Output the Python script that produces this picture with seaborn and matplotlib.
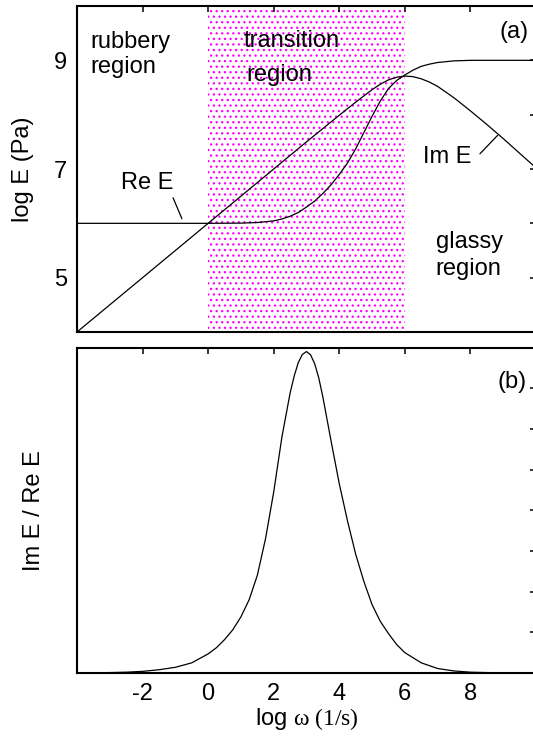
import matplotlib
matplotlib.use("Agg")
import matplotlib.pyplot as plt
import pandas as pd
import seaborn as sns

# ---------------- data ----------------
# panel (a): log Re E vs log omega
log_omega_re = [-4, -2, 0, 1, 1.5, 2, 2.25, 2.5, 2.75, 3, 3.25, 3.5, 3.75, 4,
                4.25, 4.5, 4.75, 5, 5.25, 5.5, 5.75, 6, 6.25, 6.5, 6.75, 7,
                7.5, 8, 9, 10]
log_re_E = [6.0, 6.0, 6.0, 6.004, 6.015, 6.045, 6.08, 6.13, 6.20, 6.30, 6.41,
            6.55, 6.71, 6.90, 7.11, 7.37, 7.67, 7.97, 8.25, 8.48, 8.63, 8.73,
            8.82, 8.89, 8.93, 8.96, 8.99, 9.0, 9.0, 9.0]

# panel (a): log Im E vs log omega
log_omega_im = [-4, -2, 0, 2, 3, 4, 4.5, 5, 5.25, 5.5, 5.75, 6, 6.25, 6.5,
                6.75, 7, 7.5, 8, 8.5, 9, 9.5, 10]
log_im_E = [4.0, 5.0, 6.0, 7.0, 7.5, 7.99, 8.23, 8.46, 8.56, 8.64, 8.69, 8.71,
            8.70, 8.66, 8.60, 8.52, 8.31, 8.07, 7.82, 7.56, 7.29, 7.02]

# panel (b): Im E / Re E (arbitrary linear units)
log_omega_ratio = [-4, -3.5, -3, -2.5, -2, -1.5, -1, -0.5, 0, 0.25, 0.5, 0.75,
                   1, 1.25, 1.5, 1.75, 2, 2.25, 2.5, 2.625, 2.75, 2.875, 3,
                   3.125, 3.25, 3.375, 3.5, 3.75, 4, 4.25, 4.5, 4.75, 5, 5.25,
                   5.5, 5.75, 6, 6.5, 7, 7.5, 8, 8.5, 9, 9.5, 10]
ratio_im_re = [0.0, 0.005, 0.01, 0.02, 0.04, 0.08, 0.14, 0.25, 0.47, 0.62,
               0.82, 1.06, 1.38, 1.8, 2.4, 3.3, 4.45, 5.8, 6.88, 7.3, 7.63,
               7.83, 7.9, 7.82, 7.6, 7.25, 6.78, 5.7, 4.65, 3.74, 2.92, 2.25,
               1.68, 1.27, 0.97, 0.7, 0.5, 0.25, 0.11, 0.05, 0.02, 0.01,
               0.005, 0.002, 0.0]

transition_band = [0, 6]
x_ticks = [-2, 0, 2, 4, 6, 8]
x_tick_labels = ["-2", "0", "2", "4", "6", "8"]
top_y_ticks = [5, 6, 7, 8, 9]
top_y_tick_labels = ["5", "", "7", "", "9"]
bottom_y_ticks = [1, 2, 3, 4, 5, 6, 7]

df_re = pd.DataFrame({"log_omega": log_omega_re, "value": log_re_E})
df_im = pd.DataFrame({"log_omega": log_omega_im, "value": log_im_E})
df_ratio = pd.DataFrame({"log_omega": log_omega_ratio, "value": ratio_im_re})

# ---------------- style ----------------
sns.set_style("white")
plt.rcParams["font.family"] = ["Liberation Sans", "DejaVu Sans"]
plt.rcParams["axes.unicode_minus"] = False
plt.rcParams["mathtext.fontset"] = "custom"
plt.rcParams["mathtext.rm"] = "Liberation Serif"
plt.rcParams["mathtext.it"] = "Liberation Serif:italic"
plt.rcParams["hatch.linewidth"] = 0.9
plt.rcParams["text.color"] = "black"
plt.rcParams["axes.labelcolor"] = "black"
plt.rcParams["xtick.color"] = "black"
plt.rcParams["ytick.color"] = "black"
plt.rcParams["axes.edgecolor"] = "black"
plt.rcParams["axes.linewidth"] = 1.5

FS = 17
W, H = 533, 736
fig = plt.figure(figsize=(W / 100, H / 100), dpi=100)
ax1 = fig.add_axes([77 / W, 1 - 332 / H, 459 / W, 326 / H])
ax2 = fig.add_axes([77 / W, 1 - 673 / H, 459 / W, 325.5 / H])

# ---------------- panel (a) ----------------
ax1.axvspan(transition_band[0], transition_band[1], facecolor="none",
            edgecolor="#ff00ff", hatch="...", linewidth=0, zorder=0)
sns.lineplot(data=df_re, x="log_omega", y="value", ax=ax1, color="black",
             linewidth=0.9, sort=False, estimator=None)
sns.lineplot(data=df_im, x="log_omega", y="value", ax=ax1, color="black",
             linewidth=0.9, sort=False, estimator=None)
ax1.set_xlim(-4, 10)
ax1.set_ylim(4, 10)
ax1.set_xticks(x_ticks)
ax1.set_xticklabels([])
ax1.set_yticks(top_y_ticks)
ax1.set_yticklabels(top_y_tick_labels)
ax1.set_xlabel("")
ax1.set_ylabel("log E (Pa)", fontsize=FS)
ax1.yaxis.set_label_coords(-0.093, 0.5)

ax1.text(-3.6, 9.33, "rubbery", fontsize=FS, ha="left", va="center")
ax1.text(-3.6, 8.87, "region", fontsize=FS, ha="left", va="center")
ax1.text(1.07, 9.35, "transition", fontsize=FS, ha="left", va="center")
ax1.text(1.16, 8.73, "region", fontsize=FS, ha="left", va="center")
ax1.text(6.94, 5.66, "glassy", fontsize=FS, ha="left", va="center")
ax1.text(6.94, 5.16, "region", fontsize=FS, ha="left", va="center")
ax1.text(9.76, 9.52, "(a)", fontsize=FS, ha="right", va="center")

ax1.text(-1.87, 6.75, "Re E", fontsize=FS, ha="center", va="center")
ax1.annotate("", xy=(-0.80, 6.085), xytext=(-1.07, 6.47),
             arrowprops=dict(arrowstyle="-", lw=0.9, color="black",
                             shrinkA=0, shrinkB=0))
ax1.text(7.28, 7.23, "Im E", fontsize=FS, ha="center", va="center")
ax1.annotate("", xy=(8.83, 7.62), xytext=(8.29, 7.28),
             arrowprops=dict(arrowstyle="-", lw=0.9, color="black",
                             shrinkA=0, shrinkB=0))

# ---------------- panel (b) ----------------
sns.lineplot(data=df_ratio, x="log_omega", y="value", ax=ax2, color="black",
             linewidth=0.9, sort=False, estimator=None)
ax2.set_xlim(-4, 10)
ax2.set_ylim(0, 8)
ax2.set_xticks(x_ticks)
ax2.set_xticklabels(x_tick_labels)
ax2.set_yticks(bottom_y_ticks)
ax2.set_yticklabels([])
ax2.set_ylabel("Im E / Re E", fontsize=FS)
ax2.yaxis.set_label_coords(-0.07, 0.5)
ax2.set_xlabel(r"log $\mathrm{\omega\ (1/s)}$", fontsize=FS)
ax2.xaxis.set_label_coords(0.5, -0.1)
ax2.text(9.72, 7.15, "(b)", fontsize=FS, ha="right", va="center")

for ax in (ax1, ax2):
    ax.tick_params(axis="both", which="both", direction="in", length=4.5,
                   width=1.1, top=True, right=True, labelsize=FS, pad=7,
                   colors="black")
    for sp in ax.spines.values():
        sp.set_linewidth(1.5)
        sp.set_color("black")
    ax.set_facecolor("white")

fig.savefig("out.png", dpi=100)
